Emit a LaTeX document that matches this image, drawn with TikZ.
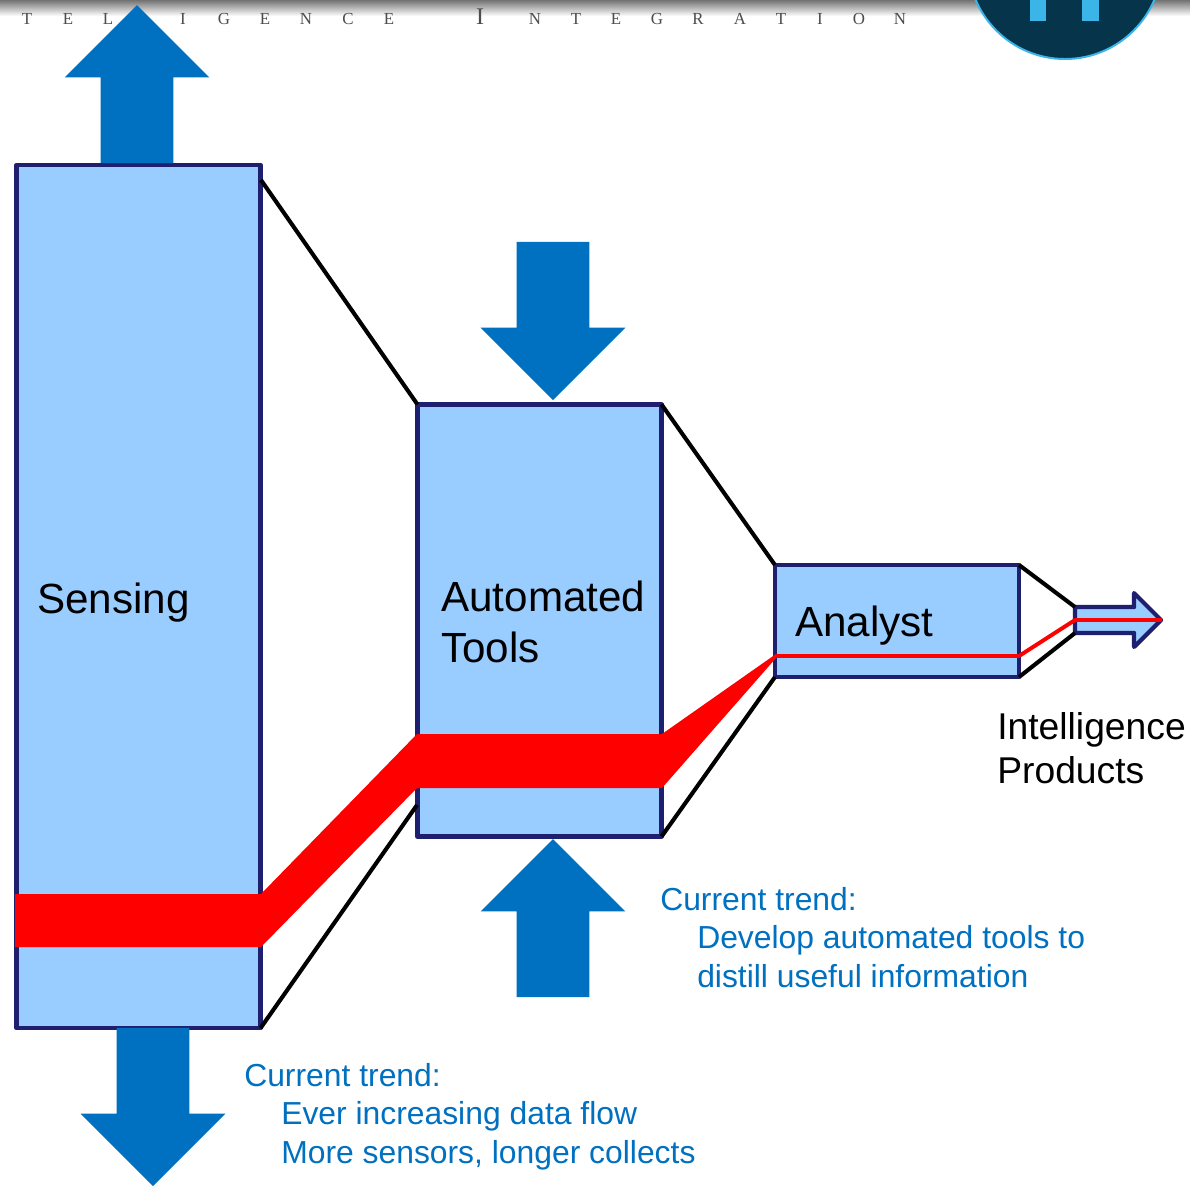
\documentclass[tikz,border=0pt]{standalone}
\usepackage{fontspec}
\setmainfont{Liberation Sans}
\newfontfamily\bannerfont{Liberation Serif}
\usetikzlibrary{shapes.arrows}
\definecolor{boxfill}{HTML}{99CCFF}
\definecolor{boxline}{HTML}{1F1F70}
\definecolor{flowblue}{HTML}{0070C0}
\definecolor{logodark}{HTML}{06344A}
\definecolor{logolight}{HTML}{3BB5E8}
\tikzset{
	stagebox/.style = {draw = boxline, fill = boxfill, line width = 3pt, line join = round, minimum width = 6.1cm, outer sep = 0pt, inner sep = 0pt},
	flowarrow/.style = {shape = single arrow, fill = flowblue, single arrow head extend = 0.9cm, inner xsep = 0pt, inner ysep = 0.9cm, minimum height = 3.95cm, outer sep = 0pt, anchor = tip},
	funnel/.style = {line width = 2.9pt, black},
	stagetext/.style = {font = \fontsize{30}{36}\selectfont, align = left, anchor = west, inner sep = 0pt},
	trendtext/.style = {font = \fontsize{22.65}{27.7}\selectfont, text = flowblue, align = left, anchor = west, inner sep = 0pt},
	bannerletter/.style = {font = \bannerfont\fontsize{12}{12}\selectfont, text = black!70, anchor = base, inner sep = 0pt}
}

\begin{document}
\begin{tikzpicture}[x = 0.025cm, y = -0.025cm]
		\clip (0, 0) rectangle (1190, 1186);
		\fill [white] (0, 0) rectangle (1190, 1186);
		\shade [top color = black!55, bottom color = white] (0, 0) rectangle (1190, 16);

		\foreach \x/\letter [count = \i] in {27/T, 68/E, 108/L, 183/I, 224/G, 265/E, 306/N, 348/C, 389/E, 535/N, 576/T, 616/E, 657/G, 698/R, 740/A, 781/T, 820/I, 859/O, 900/N}
			\node (banner\i) [bannerletter] at (\x, 24) {\letter};
		\node (bannerI) [bannerletter, font = \bannerfont\fontsize{17}{17}\selectfont] at (480, 24) {I};

		\fill [logodark] (1065, -38) circle [radius = 97];
		\draw [logolight, line width = 1.4pt] (1065, -38) circle [radius = 97];
		\fill [logolight] (1030, 0) rectangle (1046, 21);
		\fill [logolight] (1082, 0) rectangle (1099, 21);

		\node (sense) [stagebox, minimum height = 21.575cm] at (138.5, 596.5) {};
		\node (tools) [stagebox, minimum height = 10.8cm] at (539.5, 620.5) {};
		\node (analyst) [stagebox, minimum height = 2.8cm] at (897, 621) {};
		\node (products) [stagebox, shape = single arrow, anchor = tip, minimum width = 0pt, inner xsep = 0pt, inner ysep = 0.27cm, minimum height = 2.15cm, single arrow head extend = 0.35cm] at (1161, 620) {};

		\coordinate (senseTop) at (261, 180);
		\coordinate (toolsLow) at (417, 805);
		\coordinate (productsTop) at (1075, 607);
		\coordinate (productsLow) at (1075, 633);
		\coordinate (thinStart) at (775, 656);
		\coordinate (thinBend) at (1019, 656);
		\coordinate (thinMid) at (1075, 620);
		\coordinate (thinEnd) at (1162, 620);

		\draw [funnel] (senseTop) -- (tools.north west);
		\draw [funnel] (sense.south east) -- (toolsLow);
		\draw [funnel] (tools.north east) -- (analyst.north west);
		\draw [funnel] (tools.south east) -- (analyst.south west);
		\draw [funnel] (analyst.north east) -- (productsTop);
		\draw [funnel] (analyst.south east) -- (productsLow);

		\fill [red] (15, 894) -- (261, 894) -- (417, 734) -- (662, 734) -- (776, 654) -- (776, 658) -- (662, 788) -- (417, 788) -- (261, 947) -- (15, 947) -- cycle;
		\draw [red, line width = 2.8pt] (thinStart) -- (thinBend) -- (thinMid) -- (thinEnd);

		\node (upflow) [flowarrow, rotate = 90] at (137, 5) {};
		\node (downflow) [flowarrow, rotate = -90] at (153, 1186) {};
		\node (toolsIn) [flowarrow, rotate = -90] at (553, 400) {};
		\node (toolsUp) [flowarrow, rotate = 90] at (553, 839) {};

		\node (senseLabel) [stagetext] at (37, 603) {Sensing};
		\node (toolsLabel) [stagetext] at (441, 622) {Automated\\Tools};
		\node (analystLabel) [stagetext] at (795, 626) {Analyst};
		\node (productsLabel) [stagetext, font = \fontsize{26.5}{31.3}\selectfont] at (997, 748) {Intelligence\\Products};

		\node (trendA) [trendtext] at (660, 899) {Current trend:};
		\node (trendAText) [trendtext] at (697, 957) {Develop automated tools to\\distill useful information};
		\node (trendB) [trendtext] at (244, 1075) {Current trend:};
		\node (trendBText) [trendtext] at (281, 1136) {Ever increasing data flow\\More sensors, longer collects};
	\end{tikzpicture}
\end{document}
